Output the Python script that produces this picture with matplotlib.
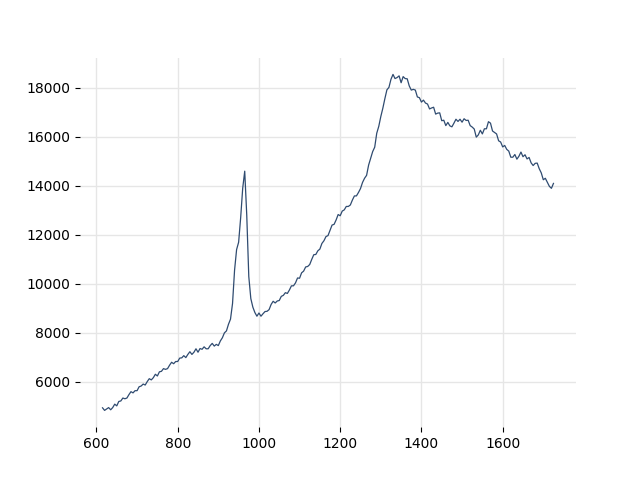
import numpy as np
import matplotlib
matplotlib.use("Agg")
import matplotlib.pyplot as plt

x_start, x_stop, x_step = 615, 1725, 5
wavenumber = np.arange(x_start, x_stop + 1, x_step)
intensity = [
    4940, 4835, 4895, 4950, 4860, 4950, 5090, 5020, 5200, 5220,
    5340, 5310, 5340, 5480, 5600, 5550, 5640, 5640, 5800, 5830,
    5910, 5870, 6010, 6130, 6080, 6170, 6310, 6240, 6410, 6430,
    6540, 6510, 6540, 6680, 6800, 6740, 6830, 6830, 6970, 6980,
    7070, 6990, 7120, 7230, 7120, 7210, 7350, 7210, 7360, 7330,
    7430, 7350, 7350, 7480, 7570, 7460, 7530, 7480, 7670, 7800,
    8000, 8080, 8350, 8560, 9200, 10560, 11400, 11700, 12700, 13900,
    14600, 12800, 10300, 9400, 9050, 8830, 8680, 8810, 8680, 8780,
    8870, 8880, 8950, 9160, 9290, 9220, 9300, 9320, 9490, 9530,
    9640, 9610, 9750, 9920, 9920, 10040, 10240, 10230, 10450, 10520,
    10690, 10710, 10790, 11000, 11190, 11200, 11350, 11420, 11650, 11760,
    11930, 11970, 12190, 12400, 12430, 12610, 12830, 12780, 12970, 13020,
    13160, 13160, 13220, 13420, 13590, 13590, 13730, 13890, 14140, 14310,
    14430, 14850, 15120, 15400, 15580, 16150, 16430, 16830, 17170, 17560,
    17920, 18020, 18350, 18550, 18380, 18420, 18490, 18210, 18460, 18380,
    18370, 18080, 17910, 17940, 17910, 17630, 17600, 17420, 17500, 17380,
    17340, 17140, 17180, 17210, 16930, 16970, 16980, 16660, 16680, 16460,
    16590, 16450, 16410, 16560, 16720, 16630, 16720, 16600, 16740, 16670,
    16680, 16460, 16400, 16320, 15990, 16080, 16270, 16120, 16330, 16330,
    16620, 16560, 16240, 16180, 16120, 15840, 15790, 15590, 15650, 15490,
    15420, 15170, 15170, 15280, 15090, 15210, 15380, 15190, 15270, 15100,
    15160, 14940, 14830, 14920, 14930, 14700, 14530, 14250, 14310, 14140,
    13980, 13900, 14100,
]

fig, ax = plt.subplots(figsize=(6.4, 4.8), dpi=100)
ax.plot(wavenumber, intensity, color="#2f4b70", linewidth=0.9)
ax.grid(True, color="#e6e6e6", linewidth=1.0)
ax.set_axisbelow(True)
for s in ax.spines.values():
    s.set_visible(False)
fig.savefig("out.png", dpi=100)
